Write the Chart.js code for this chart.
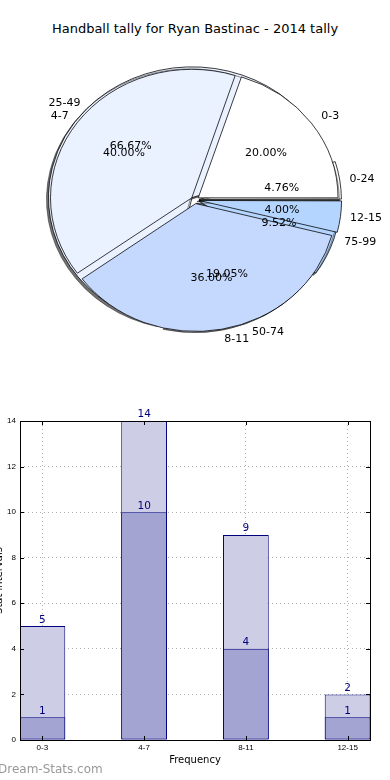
<!DOCTYPE html>
<html lang="en">
<head>
<meta charset="UTF-8">
<title>Handball tally for Ryan Bastinac - 2014 tally</title>
<script src="https://cdn.jsdelivr.net/npm/chart.js@4"></script>
<style>
  html, body { margin: 0; padding: 0; background: #fff; overflow: hidden; }
  body { width: 390px; height: 780px; position: relative; font-family: "DejaVu Sans", sans-serif; }
  .title { position: absolute; top: 21px; left: 0; width: 390px; text-align: center; font-size: 13px; color: #000; }
  .pie { position: absolute; left: 0; top: 0; }
  #tallyBars { position: absolute; left: -14px; top: 400px; }
  .stamp { position: absolute; left: -2px; top: 762px; font-size: 12px; color: #999; }
</style>
</head>
<body>
<div class="title">Handball tally for Ryan Bastinac - 2014 tally</div>
<canvas id="pieBack" class="pie" width="390" height="370"></canvas>
<canvas id="pieFront" class="pie" width="390" height="370"></canvas>
<canvas id="tallyBars" width="404" height="380"></canvas>
<div class="stamp">Dream-Stats.com</div>

<script>
// pie underneath: interval split
const intervalLabels = ['0-24', '25-49', '50-74', '75-99'];
const intervalCounts = [1, 14, 4, 2];
// pie on top: frequency split
const freqLabels = ['0-3', '4-7', '8-11', '12-15'];
const freqCounts = [5, 10, 9, 1];
// bars
const totalTally = [5, 14, 9, 2];
const innerTally = [1, 10, 4, 1];
const yTicks = [0, 2, 4, 6, 8, 10, 12, 14];

const sliceColors = ['#ffffff', '#eaf1ff', '#c5d9ff', '#b4d5ff'];
const KY = 0.91; // pie is a bit flatter than wide

// squash the pie into an ellipse (and give the back one a shadow)
const squash = {
  id: 'squash',
  beforeDatasetsDraw(chart, args, opts) {
    const a = chart.chartArea, ctx = chart.ctx;
    const cx = (a.left + a.right) / 2, cy = (a.top + a.bottom) / 2;
    ctx.save();
    ctx.translate(cx, cy);
    ctx.scale(1, KY);
    ctx.translate(-cx, -cy);
    if (opts.shadow) {
      ctx.shadowColor = 'rgba(0,0,0,0.55)';
      ctx.shadowOffsetX = -2;
      ctx.shadowOffsetY = 2;
    }
  },
  afterDatasetsDraw(chart) {
    chart.ctx.restore();
  }
};

function pieConfig(labels, values, shadow, extraPlugins) {
  return {
    type: 'pie',
    data: {
      labels: labels.slice().reverse(),
      datasets: [{
        data: values.slice().reverse(),
        backgroundColor: sliceColors.slice(0, values.length).reverse(),
        borderColor: '#000',
        borderWidth: 0.8,
        offset: 16,
        clip: false
      }]
    },
    options: {
      responsive: false,
      animation: false,
      events: [],
      rotation: 90,
      layout: { padding: { top: 52, bottom: 22, left: 47, right: 47 } },
      plugins: {
        legend: { display: false },
        tooltip: { enabled: false },
        squash: { shadow: shadow }
      }
    },
    plugins: [squash].concat(extraPlugins || [])
  };
}

const backPie = new Chart(document.getElementById('pieBack'), pieConfig(intervalLabels, intervalCounts, true));

function writeSlices(chart, ctx) {
  const ds = chart.data.datasets[0];
  const total = ds.data.reduce((s, v) => s + v, 0);
  chart.getDatasetMeta(0).data.forEach((arc, i) => {
    const m = (arc.startAngle + arc.endAngle) / 2;
    const off = (arc.options.offset || 0) / 4; // arcs shift by a quarter of offset
    const r = arc.outerRadius;
    const c = Math.cos(m), s = Math.sin(m);
    const lx = arc.x + (off + 1.09 * r) * c;
    const ly = arc.y + (off + 1.09 * r) * s * KY;
    ctx.textAlign = c >= 0 ? 'left' : 'right';
    ctx.fillText(chart.data.labels[i], lx, ly);
    const px = arc.x + (off + 0.6 * r) * c;
    const py = arc.y + (off + 0.6 * r) * s * KY;
    ctx.textAlign = 'center';
    ctx.fillText((ds.data[i] / total * 100).toFixed(2) + '%', px, py);
  });
}

const pieText = {
  id: 'pieText',
  afterDraw(chart) {
    const ctx = chart.ctx;
    ctx.save();
    ctx.font = '11px "DejaVu Sans"';
    ctx.fillStyle = '#000';
    ctx.textBaseline = 'middle';
    writeSlices(backPie, ctx);
    writeSlices(chart, ctx);
    ctx.restore();
  }
};

new Chart(document.getElementById('pieFront'), pieConfig(freqLabels, freqCounts, false, [pieText]));

// box round the plot, inward ticks and value labels over the bars
const barFrame = {
  id: 'barFrame',
  afterDatasetsDraw(chart) {
    const ctx = chart.ctx, a = chart.chartArea;
    ctx.save();
    ctx.font = '10.5px "DejaVu Sans"';
    ctx.fillStyle = '#00007f';
    ctx.textAlign = 'center';
    ctx.textBaseline = 'bottom';
    chart.data.datasets.forEach((ds, d) => {
      chart.getDatasetMeta(d).data.forEach((bar, i) => {
        ctx.fillText(String(ds.data[i].y), bar.x, bar.y - 1);
      });
    });
    ctx.strokeStyle = '#000';
    ctx.lineWidth = 1;
    ctx.beginPath();
    chart.scales.y.ticks.forEach(t => {
      const y = Math.round(chart.scales.y.getPixelForValue(t.value)) + 0.5;
      ctx.moveTo(a.left, y); ctx.lineTo(a.left + 4, y);
      ctx.moveTo(a.right, y); ctx.lineTo(a.right - 4, y);
    });
    chart.scales.x.ticks.forEach(t => {
      const x = Math.round(chart.scales.x.getPixelForValue(t.value)) + 0.5;
      ctx.moveTo(x, a.bottom); ctx.lineTo(x, a.bottom - 4);
      ctx.moveTo(x, a.top); ctx.lineTo(x, a.top + 4);
    });
    ctx.stroke();
    ctx.strokeRect(Math.round(a.left) + 0.5, Math.round(a.top) + 0.5, Math.round(a.right - a.left), Math.round(a.bottom - a.top));
    ctx.restore();
  }
};

new Chart(document.getElementById('tallyBars'), {
  type: 'bar',
  data: {
    datasets: [
      {
        data: innerTally.map((v, i) => ({ x: i, y: v })),
        backgroundColor: '#a3a4d1',
        borderColor: '#00007f',
        borderWidth: 1,
        borderSkipped: false,
        grouped: false,
        barPercentage: 0.45,
        categoryPercentage: 1,
        order: 0
      },
      {
        data: totalTally.map((v, i) => ({ x: i, y: v })),
        backgroundColor: '#cdcde5',
        borderColor: '#00007f',
        borderWidth: 1,
        borderSkipped: false,
        grouped: false,
        barPercentage: 0.45,
        categoryPercentage: 1,
        order: 1
      }
    ]
  },
  options: {
    responsive: false,
    animation: false,
    events: [],
    layout: { padding: { top: 21, right: 20, bottom: 0, left: 0 } },
    plugins: { legend: { display: false }, tooltip: { enabled: false } },
    scales: {
      x: {
        type: 'linear',
        offset: false,
        min: -0.22,
        max: 3.22,
        afterBuildTicks: s => { s.ticks = freqLabels.map((_, i) => ({ value: i })); },
        afterFit: s => { s.height = 40; },
        ticks: {
          callback: v => freqLabels[v],
          font: { family: 'Liberation Sans', size: 8 },
          color: '#000',
          padding: 3,
          maxRotation: 0
        },
        grid: { color: '#b0b0b0', drawTicks: false, lineWidth: 1, offset: false },
        border: { display: false, dash: [1, 3] },
        title: {
          display: true,
          text: 'Frequency',
          color: '#000',
          font: { family: 'DejaVu Sans', size: 10 },
          padding: { top: 0, bottom: 14 }
        }
      },
      y: {
        min: 0,
        max: 14,
        afterBuildTicks: s => { s.ticks = yTicks.map(v => ({ value: v })); },
        afterFit: s => { s.width = 34; },
        ticks: {
          font: { family: 'Liberation Sans', size: 8 },
          color: '#000',
          padding: 4
        },
        grid: { color: '#b0b0b0', drawTicks: false, lineWidth: 1 },
        border: { display: false, dash: [1, 3] },
        title: {
          display: true,
          text: 'Stat intervals',
          color: '#000',
          font: { family: 'DejaVu Sans', size: 10 },
          padding: { top: 7, bottom: 0 }
        }
      }
    }
  },
  plugins: [barFrame]
});
</script>
</body>
</html>
